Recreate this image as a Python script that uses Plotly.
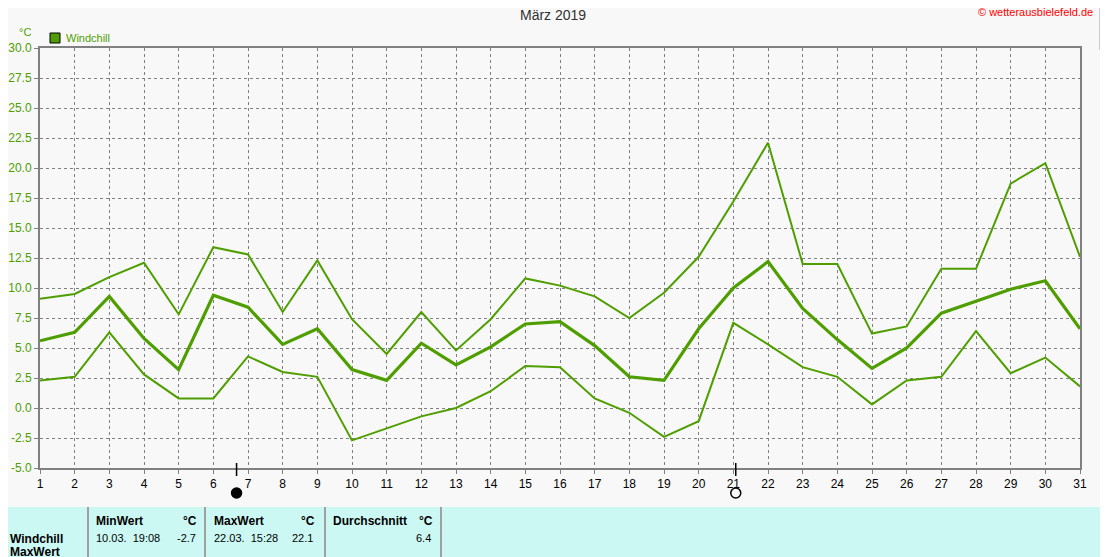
import plotly.graph_objects as go

# ---- data ----
days = list(range(1, 32))
wc_max = [9.1, 9.5, 10.9, 12.1, 7.8, 13.4, 12.8, 8.0, 12.3, 7.4, 4.5, 8.0, 4.8, 7.4, 10.8, 10.2,
          9.3, 7.5, 9.6, 12.6, 17.2, 22.1, 12.0, 12.0, 6.2, 6.8, 11.6, 11.6, 18.7, 20.4, 12.6]
wc_avg = [5.6, 6.3, 9.3, 5.8, 3.2, 9.4, 8.4, 5.3, 6.6, 3.2, 2.3, 5.4, 3.6, 5.1, 7.0, 7.2,
          5.2, 2.6, 2.3, 6.6, 10.0, 12.2, 8.3, 5.7, 3.3, 5.0, 7.9, 8.9, 9.9, 10.6, 6.6]
wc_min = [2.3, 2.6, 6.3, 2.8, 0.8, 0.8, 4.3, 3.0, 2.6, -2.7, -1.7, -0.7, 0.0, 1.4, 3.5, 3.4,
          0.8, -0.4, -2.4, -1.1, 7.1, 5.3, 3.4, 2.6, 0.3, 2.3, 2.6, 6.4, 2.9, 4.2, 1.8]
moon_new = [6.67]
moon_full = [21.07]
y_ticks = [-5.0 + 2.5 * i for i in range(15)]

GREEN = "#4F9E00"
GRID = "#808080"
OFF = 8                      # browser body margin
W, H = 1108 - OFF, 557 - OFF
L, R, T, B = 40, 1080, 48, 468   # plot area in window pixels

def px(x):
    return (x - L) / (R - L)

def py(y):
    return (B - y) / (B - T)

fig = go.Figure()
for vals, w in [(wc_max, 2), (wc_min, 2), (wc_avg, 3.2)]:
    fig.add_trace(go.Scatter(x=days, y=vals, mode="lines",
                             line=dict(color=GREEN, width=w), showlegend=False,
                             hoverinfo="skip"))

shapes = []
# moon phase markers (x from data, y in pixels below axis)
for xm, filled in [(moon_new[0], True), (moon_full[0], False)]:
    shapes.append(dict(type="line", xref="x", yref="paper", x0=xm, x1=xm,
                       y0=py(463), y1=py(476), line=dict(color="black", width=1.5)))
    shapes.append(dict(type="circle", xref="x", yref="paper",
                       xsizemode="pixel", ysizemode="pixel", xanchor=xm, yanchor=py(493),
                       x0=-5, x1=5, y0=-5, y1=5,
                       fillcolor="black" if filled else "rgba(0,0,0,0)",
                       line=dict(color="black", width=1.5)))

# legend square
shapes.append(dict(type="rect", xref="paper", yref="paper",
                   x0=px(50), x1=px(60), y0=py(43), y1=py(33),
                   fillcolor=GREEN, line=dict(color="black", width=1)))

# bottom table
shapes.append(dict(type="rect", xref="paper", yref="paper", x0=px(OFF), x1=px(1100),
                   y0=py(558), y1=py(507), fillcolor="#CCF8F4", line=dict(width=0), layer="below"))
for xs in [88, 205, 325, 441]:
    shapes.append(dict(type="line", xref="paper", yref="paper", x0=px(xs), x1=px(xs),
                       y0=py(557), y1=py(507), line=dict(color="#A0A0A0", width=2)))

# right-edge UI fragments
shapes.append(dict(type="rect", xref="paper", yref="paper", x0=px(1100), x1=px(1109),
                   y0=py(50), y1=py(8), fillcolor="#E8E8E8", line=dict(color="#A0A0A0", width=1)))
for yy, col in [(148, "#707070"), (190, "#2E9E2E"), (205, "#A0A0A0"), (226, "#20C8C8"),
                (246, "#800080"), (300, "#4050F0"), (338, "#D040A0"), (370, "#A0A0A0"),
                (412, "#50B050"), (455, "#4050F0"), (490, "#FF2080"), (525, "#408080")]:
    shapes.append(dict(type="line", xref="paper", yref="paper", x0=px(1100), x1=px(1108),
                       y0=py(yy), y1=py(yy), line=dict(color=col, width=2)))

FONT = "Liberation Sans"
ann = []
def text(x, y, s, size=11, color="black", bold=False, anchor="left"):
    ann.append(dict(xref="paper", yref="paper", x=px(x), y=py(y), text=("<b>%s</b>" % s) if bold else s,
                    showarrow=False, xanchor=anchor, yanchor="middle",
                    font=dict(family=FONT, size=size, color=color)))

text(553, 15, "März 2019", size=14, color="#303030", anchor="center")
text(1095, 12, "© wetterausbielefeld.de", size=11, color="#FF0000", anchor="right")
text(25, 32, "°C", size=11, color=GREEN, anchor="center")
text(64, 38, "Windchill", size=11, color=GREEN)

text(8, 539, "Windchill", size=12, bold=True)
text(8, 552, "MaxWert", size=12, bold=True)
text(94, 521, "MinWert", size=12, bold=True)
text(199, 521, "°C", size=12, bold=True, anchor="right")
text(94, 538, "10.03.&nbsp;&nbsp;19:08", size=11)
text(198, 538, "-2.7", size=11, anchor="right")
text(212, 521, "MaxWert", size=12, bold=True)
text(317, 521, "°C", size=12, bold=True, anchor="right")
text(212, 538, "22.03.&nbsp;&nbsp;15:28", size=11)
text(315, 538, "22.1", size=11, anchor="right")
text(331, 521, "Durchschnitt", size=12, bold=True)
text(435, 521, "°C", size=12, bold=True, anchor="right")
text(433, 538, "6.4", size=11, anchor="right")

fig.update_layout(
    width=W, height=H,
    margin=dict(l=L - OFF, r=1108 - R, t=T - OFF, b=557 - B, pad=0),
    paper_bgcolor="#F8F8F8", plot_bgcolor="#F8F8F8",
    font=dict(family=FONT, size=12, color="black"),
    shapes=shapes, annotations=ann, showlegend=False,
    xaxis=dict(range=[1, 31], tickvals=days, ticktext=[str(d) for d in days],
               showgrid=True, gridcolor=GRID, griddash="3px,3px", gridwidth=1,
               showline=True, linecolor=GRID, linewidth=2, mirror=True,
               ticks="outside", ticklen=4, tickcolor=GRID, automargin=False,
               tickfont=dict(family=FONT, size=12, color="black"), zeroline=False),
    yaxis=dict(range=[-5, 30], tickvals=y_ticks, ticktext=["%.1f" % v for v in y_ticks],
               showgrid=True, gridcolor=GRID, griddash="3px,3px", gridwidth=1,
               showline=True, linecolor=GRID, linewidth=2, mirror=True,
               ticks="outside", ticklen=4, tickcolor=GRID, automargin=False,
               tickfont=dict(family=FONT, size=12, color=GREEN), zeroline=False),
)

fig.write_html("out.html")
